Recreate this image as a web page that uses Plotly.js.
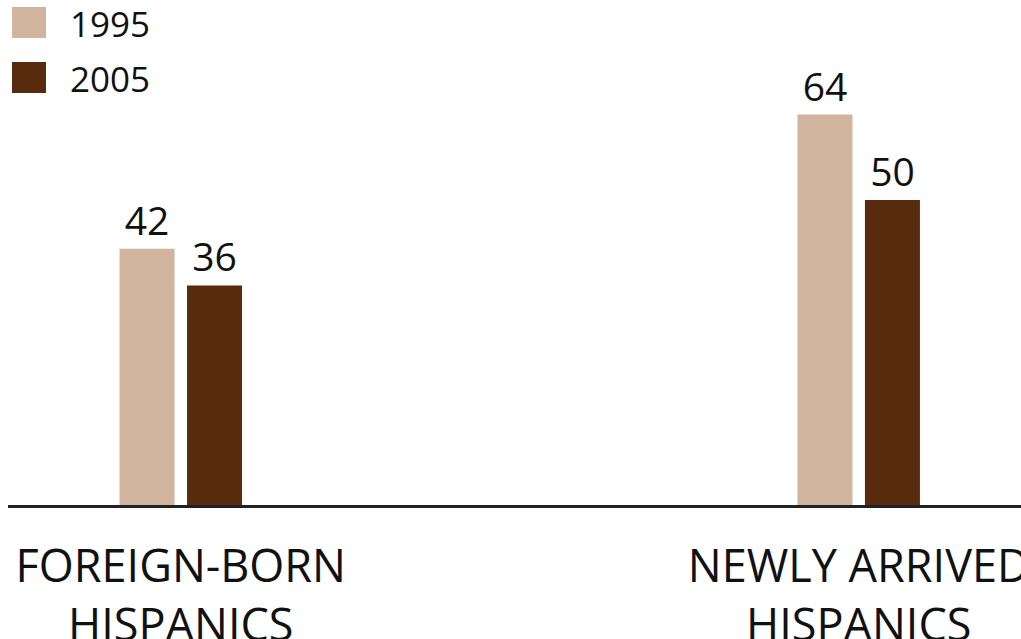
<!DOCTYPE html>
<html>
<head>
<meta charset="utf-8">
<script src="https://cdn.plot.ly/plotly-3.0.1.min.js"></script>
<style>
  html, body { margin: 0; padding: 0; background: #ffffff; }
  #chart { width: 1021px; height: 639px; }
</style>
</head>
<body>
<div id="chart"></div>
<script>
// ---- data ----
const categories = ["FOREIGN-BORN<br>HISPANICS", "NEWLY ARRIVED<br>HISPANICS"];
const seriesNames = ["1995", "2005"];
const values1995 = [42, 64];
const values2005 = [36, 50];
const seriesColors = ["#d0b49d", "#582b0c"];

const FONT = "Open Sans, Noto Sans, DejaVu Sans, sans-serif";

const traces = [
  {
    type: "bar", name: seriesNames[0], x: categories, y: values1995,
    marker: { color: seriesColors[0] },
    text: values1995.map(String), textposition: "outside", cliponaxis: false,
    textfont: { family: FONT, size: 39, color: "#111" },
    hoverinfo: "skip", showlegend: false
  },
  {
    type: "bar", name: seriesNames[1], x: categories, y: values2005,
    marker: { color: seriesColors[1] },
    text: values2005.map(String), textposition: "outside", cliponaxis: false,
    textfont: { family: FONT, size: 39, color: "#111" },
    hoverinfo: "skip", showlegend: false
  }
];

// legend drawn as shapes + annotations (large swatches)
const legendShapes = seriesNames.map((n, i) => ({
  type: "rect", xref: "paper", yref: "paper",
  xsizemode: "pixel", ysizemode: "pixel",
  xanchor: 0, yanchor: 1,
  x0: 4, x1: 38,
  y0: -(38 + i * 55), y1: -(7 + i * 55),
  fillcolor: seriesColors[i], line: { width: 0 }
}));
const legendLabels = seriesNames.map((n, i) => ({
  xref: "paper", yref: "paper",
  x: (68 - 8) / 1013, y: 1 - (23 + i * 55) / 505,
  xanchor: "left", yanchor: "middle",
  text: n, showarrow: false,
  font: { family: FONT, size: 35, color: "#111" }
}));

const layout = {
  width: 1021, height: 639,
  margin: { l: 8, r: 0, t: 0, b: 134, pad: 0 },
  paper_bgcolor: "#ffffff", plot_bgcolor: "#ffffff",
  barmode: "group",
  bargap: 0.8009,
  bargroupgap: 0.185,
  showlegend: false,
  xaxis: {
    type: "category",
    range: [-0.2549, 1.2394],
    showgrid: false, zeroline: false,
    showline: true, linecolor: "#222", linewidth: 3,
    ticks: "", ticklabelstandoff: 20,
    tickfont: { family: FONT, size: 45, color: "#111" }
  },
  yaxis: {
    range: [0, 505 / 6.1],
    showgrid: false, zeroline: false, showline: false,
    showticklabels: false, ticks: ""
  },
  shapes: legendShapes,
  annotations: legendLabels,
  font: { family: FONT }
};

Plotly.newPlot("chart", traces, layout, { staticPlot: true, displayModeBar: false });
</script>
</body>
</html>
